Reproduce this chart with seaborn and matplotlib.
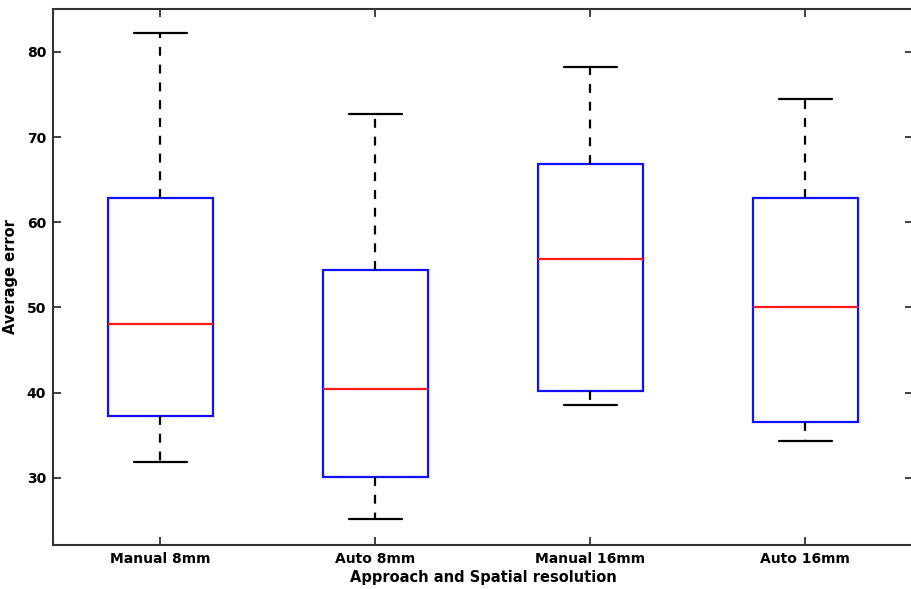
import numpy as np
import pandas as pd
import matplotlib
matplotlib.use("Agg")
import matplotlib.pyplot as plt
import seaborn as sns

categories = ["Manual 8mm", "Auto 8mm", "Manual 16mm", "Auto 16mm"]
whisker_low = [31.8, 25.1, 38.6, 34.3]
q1 = [37.3, 30.1, 40.2, 36.6]
median = [48.0, 40.4, 55.7, 50.0]
q3 = [62.9, 54.4, 66.9, 62.9]
whisker_high = [82.2, 72.7, 78.2, 74.5]
yticks = [30, 40, 50, 60, 70, 80]

rows = []
for i, c in enumerate(categories):
    for v in (whisker_low[i], q1[i], median[i], q3[i], whisker_high[i]):
        rows.append({"group": c, "value": v})
df = pd.DataFrame(rows)

sns.set_style("ticks")
plt.rcParams["font.family"] = ["DejaVu Sans"]
plt.rcParams["font.weight"] = "bold"

fig = plt.figure(figsize=(9.12, 5.89), dpi=100)
ax = fig.add_axes([53 / 912, 1 - 545 / 589, 1 - 53 / 912 + 0.001, (545 - 9) / 589])

sns.boxplot(
    data=df, x="group", y="value", order=categories, ax=ax,
    whis=np.inf, width=0.49, color="white", linewidth=1.6,
    boxprops=dict(edgecolor="#1010ff", facecolor="white", linewidth=1.6),
    medianprops=dict(color="#ff1a1a", linewidth=1.6),
    whiskerprops=dict(color="black", linestyle=(0, (4, 4)), linewidth=1.6),
    capprops=dict(color="black", linewidth=1.6),
    capwidths=0.25,
    showfliers=False,
)

ax.set_xlim(-0.5, 3.5)
ax.set_ylim(22.1, 85.05)
ax.set_yticks(yticks)
ax.set_yticklabels([str(t) for t in yticks])
ax.set_xlabel("Approach and Spatial resolution", fontsize=10.5, fontweight="bold",
              labelpad=3, color="black")
ax.set_ylabel("Average error", fontsize=10.5, fontweight="bold", labelpad=6, color="black")
ax.tick_params(axis="both", direction="in", length=6, width=1.3, colors="#333333",
               labelcolor="black", labelsize=10, top=True, right=True, pad=5)
for lab in ax.get_xticklabels() + ax.get_yticklabels():
    lab.set_fontweight("bold")
for s in ax.spines.values():
    s.set_linewidth(1.5)
    s.set_color("#333333")
ax.spines["right"].set_visible(False)

fig.savefig("out.png", dpi=100)
